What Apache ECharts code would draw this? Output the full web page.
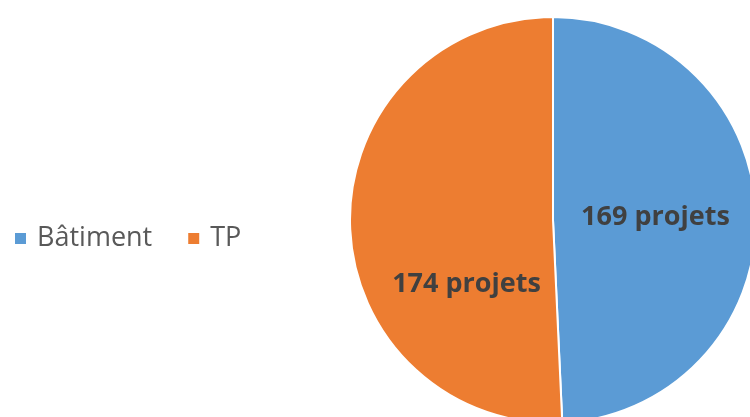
<!DOCTYPE html>
<html>
<head>
<meta charset="utf-8">
<script src="https://cdn.jsdelivr.net/npm/echarts@6/dist/echarts.min.js"></script>
<style>
  html, body { margin: 0; padding: 0; background: #fff; }
  #chart { width: 750px; height: 417px; }
</style>
</head>
<body>
<div id="chart"></div>
<script>
// données
var categories = ['Bâtiment', 'TP']
var values = [169, 174]
var colors = ['#5B9BD5', '#ED7D31']
var labelSuffix = ' projets'

var chart = echarts.init(document.getElementById('chart'))

var seriesData = categories.map(function(name, i) {
  return {
    name: name,
    value: values[i],
    itemStyle: { color: colors[i] },
    // le label orange est décalé vers le bas comme dans l'original
    label: i === 1 ? { offset: [18, 62] } : { offset: [-2, 0] }
  }
})

chart.setOption({
  animation: false,
  backgroundColor: '#fff',
  legend: {
    data: categories,
    orient: 'horizontal',
    left: 8,
    top: 220,
    padding: 5,
    itemWidth: 13,
    itemHeight: 13,
    itemGap: 34,
    icon: 'rect',
    textStyle: {
      color: '#595959',
      fontSize: 27,
      fontFamily: 'Open Sans',
      padding: [0, 0, 0, 5]
    }
  },
  series: [{
    type: 'pie',
    center: [553, 220],
    radius: [0, 203],
    startAngle: 90,
    clockwise: true,
    itemStyle: {
      borderColor: '#fff',
      borderWidth: 2
    },
    label: {
      show: true,
      position: 'inside',
      formatter: function(p) { return p.value + labelSuffix },
      color: '#404040',
      fontSize: 27,
      fontWeight: 'bold',
      fontFamily: 'Open Sans'
    },
    labelLine: { show: false },
    emphasis: { disabled: true },
    data: seriesData
  }]
})
</script>
</body>
</html>
